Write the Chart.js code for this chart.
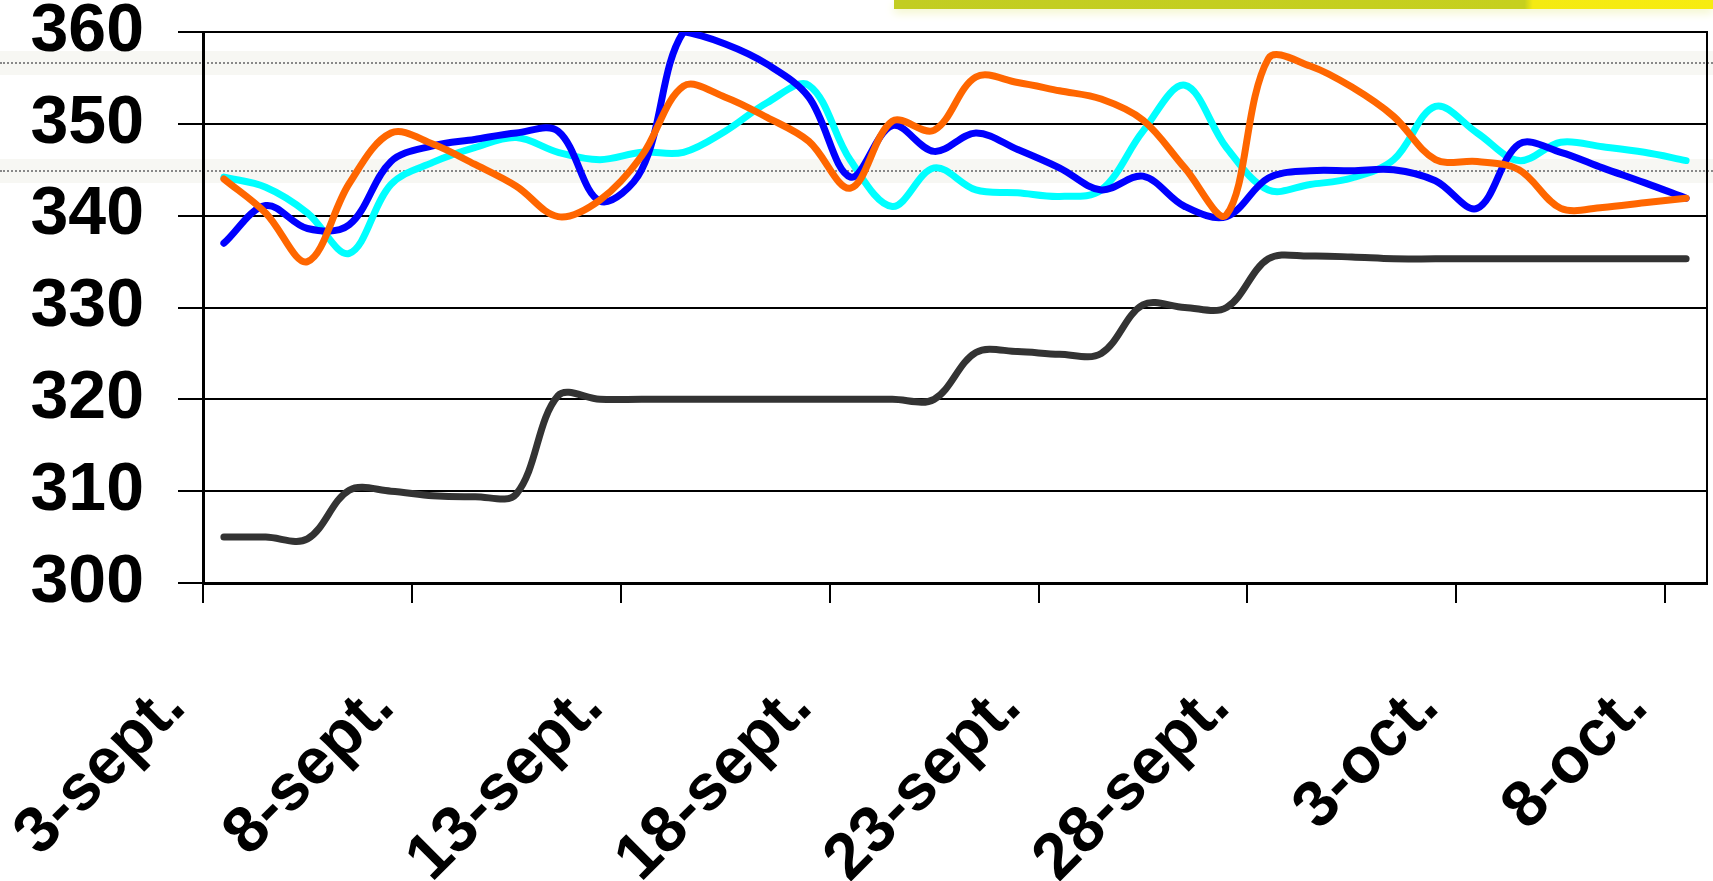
<!DOCTYPE html>
<html>
<head>
<meta charset="utf-8">
<script src="https://cdn.jsdelivr.net/npm/chart.js@4/dist/chart.umd.min.js"></script>
<style>
  body { margin: 0; background: #fff; }
  #wrap { position: relative; width: 1713px; height: 881px; }
  .band { position: absolute; left: 0; width: 1713px; height: 24px; background: #f7f7f3; }
  .band::after { content: ""; position: absolute; left: 0; right: 0; top: 11px; border-top: 2px dotted #888; }
  #topbar { position: absolute; left: 894px; top: 0; width: 819px; height: 9px;
    background: linear-gradient(to right, #c2cd22 0%, #c6d01e 77%, #f4ea12 78%, #f7ec10 100%);
    box-shadow: 0 4px 10px #f3f6c8; }
  canvas { position: relative; }
</style>
</head>
<body>
<div id="wrap">
  <div class="band" style="top:51px"></div>
  <div class="band" style="top:159px"></div>
  <div id="topbar"></div>
  <canvas id="line-chart"></canvas>
</div>
<script>
// one point per day, 3 sept -> 8 oct
const days = [
  "3-sept.", "4-sept.", "5-sept.", "6-sept.", "7-sept.", "8-sept.", "9-sept.",
  "10-sept.", "11-sept.", "12-sept.", "13-sept.", "14-sept.", "15-sept.", "16-sept.",
  "17-sept.", "18-sept.", "19-sept.", "20-sept.", "21-sept.", "22-sept.", "23-sept.",
  "24-sept.", "25-sept.", "26-sept.", "27-sept.", "28-sept.", "29-sept.", "30-sept.",
  "1-oct.", "2-oct.", "3-oct.", "4-oct.", "5-oct.", "6-oct.", "7-oct.", "8-oct.",
];

const orange = [
  344.0, 340.3, 335.0, 343.5, 349.0, 347.8, 345.6, 343.2, 339.9, 341.7,
  346.5, 354.1, 352.9, 350.7, 348.1, 343.0, 350.3, 349.3, 355.1, 354.5,
  353.6, 352.7, 350.4, 345.2, 340.1, 357.1, 356.3, 354.0, 350.8, 346.1,
  345.9, 345.0, 340.8, 340.9, 341.4, 341.9,
];
const blue = [
  337.0, 341.1, 338.6, 339.0, 345.9, 347.6, 348.3, 349.0, 349.2, 341.6,
  345.0, 360.0, 358.7, 356.5, 352.9, 344.2, 349.8, 347.0, 349.0, 347.2,
  345.2, 342.8, 344.3, 341.0, 339.9, 344.1, 344.9, 344.9, 345.0, 343.8,
  340.8, 347.8, 346.9, 345.2, 343.6, 341.9,
];
const cyan = [
  344.2, 343.1, 340.3, 335.9, 343.4, 345.8, 347.4, 348.5, 346.9, 346.1,
  346.9, 346.9, 349.2, 352.3, 354.2, 346.0, 341.0, 345.2, 342.8, 342.5,
  342.1, 342.8, 349.2, 354.2, 347.4, 342.8, 343.4, 344.1, 346.1, 351.9,
  349.0, 346.0, 348.0, 347.5, 346.9, 346.0,
];
const gray = [
  305.0, 305.0, 304.8, 310.1, 310.0, 309.5, 309.4, 309.7, 320.4, 320.0,
  320.0, 320.0, 320.0, 320.0, 320.0, 320.0, 320.0, 320.0, 325.1, 325.2,
  324.9, 325.0, 330.3, 330.0, 330.0, 335.3, 335.6, 335.5, 335.3, 335.3,
  335.3, 335.3, 335.3, 335.3, 335.3, 335.3,
];

const yMin = 300, yMax = 360, yStep = 10;
const labelEvery = 5;

// points sit in the middle of each day slot, ticks mark day boundaries
const pts = (arr) => arr.map((v, i) => ({ x: i + 0.5, y: v }));
const lineStyle = (color) => ({
  borderColor: color,
  backgroundColor: color,
  borderWidth: 7,
  pointRadius: 0,
  tension: 0.35,
  fill: false,
  borderCapStyle: "round",
  borderJoinStyle: "round",
});

const bold = (size, lh) => ({ family: "'Liberation Sans', Arial, sans-serif", size: size, weight: "bold", lineHeight: lh });

new Chart(document.getElementById("line-chart"), {
  type: "line",
  data: {
    datasets: [
      { label: "Série 1", data: pts(orange), ...lineStyle("#ff6600") },
      { label: "Série 2", data: pts(blue), ...lineStyle("#0000ff") },
      { label: "Série 3", data: pts(cyan), ...lineStyle("#00ffff") },
      { label: "Série 4", data: pts(gray), ...lineStyle("#333333") },
    ],
  },
  options: {
    responsive: true,
    maintainAspectRatio: false,
    animation: false,
    layout: { padding: { top: 32, right: 6, left: 0, bottom: 0 } },
    plugins: {
      legend: { display: false },
      tooltip: { enabled: false },
    },
    scales: {
      x: {
        type: "linear",
        min: 0,
        max: days.length,
        afterBuildTicks: (scale) => {
          const t = [];
          for (let i = 0; i < days.length; i += labelEvery) t.push({ value: i });
          scale.ticks = t;
        },
        afterFit: (scale) => {
          scale.height = 298;
          scale.paddingLeft = 0;
          scale.paddingRight = 0;
        },
        ticks: {
          autoSkip: false,
          minRotation: 45,
          maxRotation: 45,
          padding: 66,
          labelOffset: -28,
          color: "#000",
          font: bold(65, 1.2),
          callback: (v) => days[v],
        },
        grid: { drawOnChartArea: false, color: "#000", lineWidth: 2, tickLength: 20 },
        border: { color: "#000", width: 3 },
      },
      y: {
        min: yMin,
        max: yMax,
        afterFit: (scale) => {
          scale.width = 203;
          scale.paddingTop = 0;
          scale.paddingBottom = 0;
        },
        ticks: { stepSize: yStep, padding: 34, color: "#000", font: bold(68, 0.9) },
        grid: { color: "#000", lineWidth: 2, tickLength: 25 },
        border: { color: "#000", width: 3 },
      },
      y2: {
        position: "right",
        min: yMin,
        max: yMax,
        afterFit: (scale) => { scale.width = 0; },
        ticks: { display: false },
        grid: { drawOnChartArea: false, drawTicks: false },
        border: { color: "#000", width: 2 },
      },
    },
  },
});
</script>
</body>
</html>
